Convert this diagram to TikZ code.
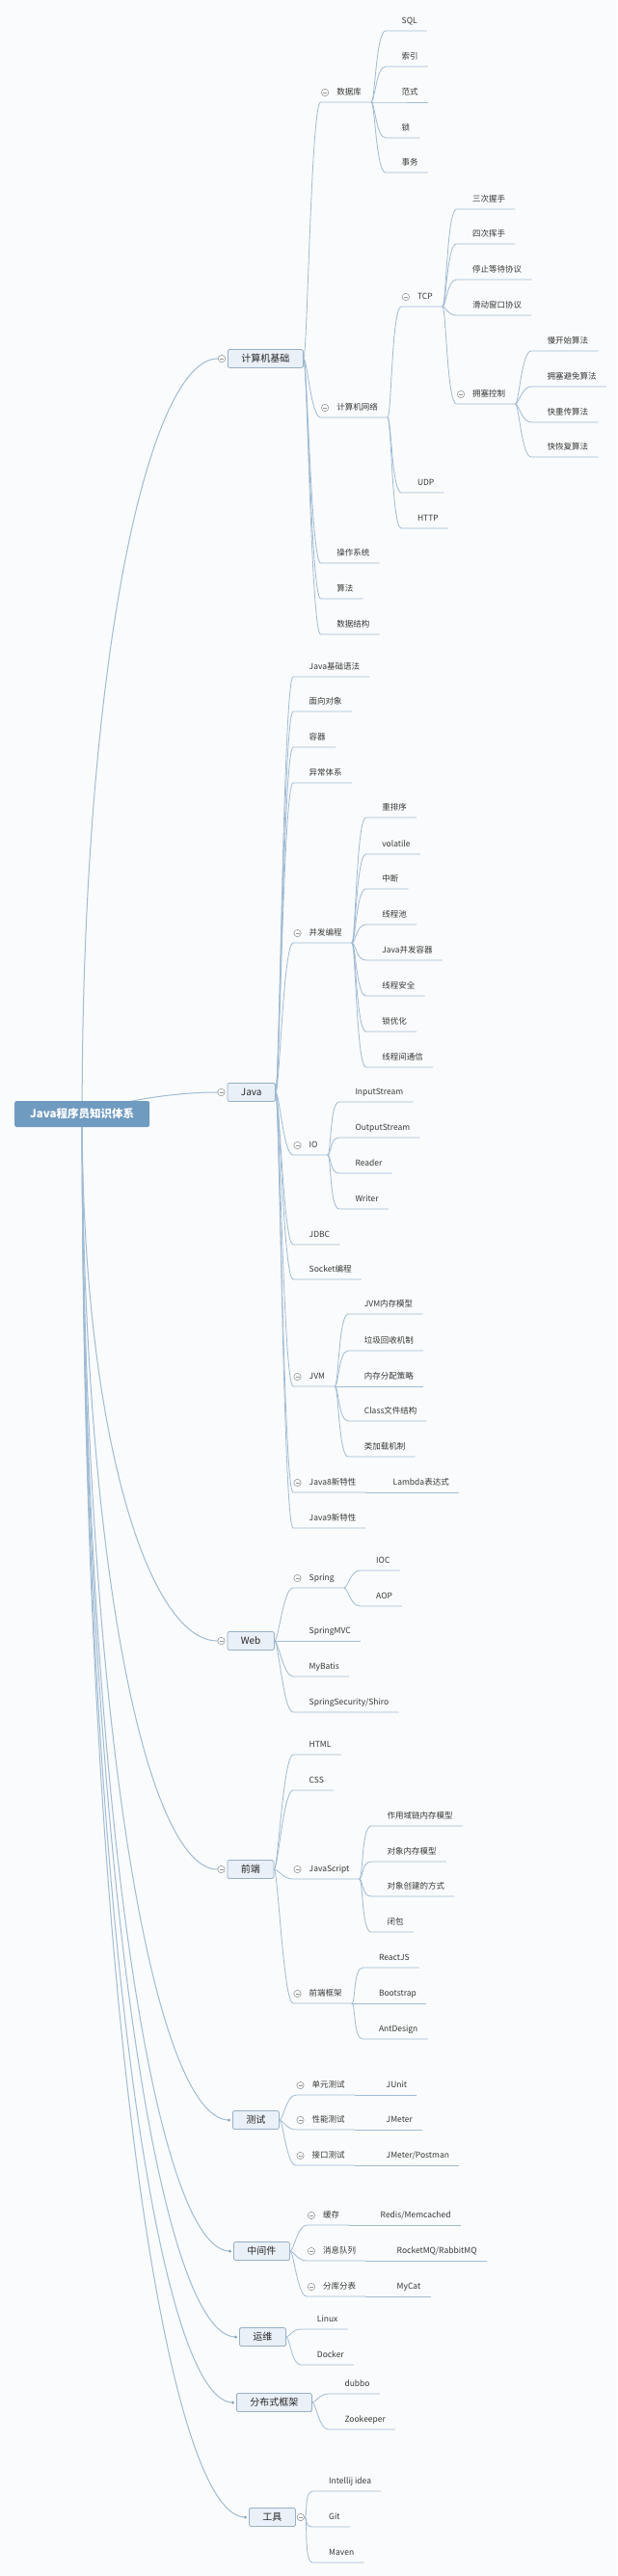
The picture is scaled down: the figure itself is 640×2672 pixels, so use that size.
\documentclass[tikz,border=0pt]{standalone}
\usepackage{fontspec}
\setmainfont{Noto Sans CJK SC}
\usetikzlibrary{positioning}

\definecolor{lineC}{RGB}{160,188,212}
\definecolor{rootC}{RGB}{112,155,192}
\definecolor{boxC}{RGB}{233,240,247}
\definecolor{boxD}{RGB}{152,177,200}
\definecolor{textC}{RGB}{55,55,55}
\definecolor{togC}{RGB}{150,150,150}
\definecolor{bgC}{RGB}{250,251,252}

\pgfdeclarelayer{bg}
\pgfsetlayers{bg,main}

\begin{document}
\begin{tikzpicture}[x=1pt,y=-1pt,
    link/.style={draw=lineC,line width=0.8pt},
    rootlink/.style={draw=lineC,line width=1pt},
    branch/.style={to path={.. controls +(4,0) and +(-10,0) .. (\tikztotarget)}}]
  \tikzstyle{nodeR}=[rectangle,rounded corners=2pt,fill=rootC,text=white,font=\fontsize{11.5}{13}\selectfont\bfseries,
    inner xsep=16pt,inner ysep=0pt,minimum height=27pt,text height=10.1pt,text depth=1.4pt,anchor=west]
  \tikzstyle{nodeT}=[rectangle,rounded corners=1.5pt,draw=boxD,fill=boxC,line width=0.8pt,text=black!85,
    font=\fontsize{10}{12}\selectfont,inner xsep=14pt,inner ysep=0pt,minimum height=19pt,
    text height=8.8pt,text depth=1.2pt,anchor=west]
  \tikzstyle{leaf}=[inner xsep=0pt,inner ysep=7.4pt,text height=6.5pt,text depth=0pt,anchor=south west,
    text=textC,font=\fontsize{8.5}{10}\selectfont,
    execute at begin node={\kern16.5pt},execute at end node={\kern10pt}]
  \tikzstyle{tog}=[circle,draw=togC,fill=white,line width=0.6pt,minimum size=7.4pt,inner sep=0pt,
    path picture={\draw[togC,line width=0.6pt] ([xshift=-2pt]path picture bounding box.center)
      -- ([xshift=2pt]path picture bounding box.center);}]
  \tikzstyle{dot}=[circle,fill=lineC!85!black,minimum size=3pt,inner sep=0pt]

  \path[use as bounding box] (0,0) rectangle (640,2672);

  % root and main topics
  \node[nodeR] (root) at (15,1155.5) {Java程序员知识体系};
  \node[nodeT] (cjb) at (236,372)   {计算机基础};
  \node[nodeT] (java) at (235.5,1133) {Java};
  \node[nodeT] (web) at (235.5,1702) {Web};
  \node[nodeT] (qd) at (235.5,1939)  {前端};
  \node[nodeT] (cs) at (241,2199)    {测试};
  \node[nodeT] (zjj) at (242,2335)   {中间件};
  \node[nodeT] (yw) at (248,2424)    {运维};
  \node[nodeT] (fbs) at (245,2492)   {分布式框架};
  \node[nodeT] (gj) at (258,2611)    {工具};
  \foreach \n in {cjb,java,web,qd}
    \node[tog] (\n-t) at ([xshift=-6pt]\n.west) {};
  \foreach \n in {cs,zjj,yw,fbs,gj}
    \node[dot] (\n-d) at ([xshift=-3.5pt]\n.west) {};
  \node[tog] (gj-t) at ([xshift=5pt]gj.east) {};

  \begin{pgfonlayer}{bg}
    \fill[bgC] (0,0) rectangle (640,2672);
    \draw[rootlink] (root.center) .. controls +(0,-470) and +(-72,0) .. (cjb-t.west);
    \draw[rootlink] (root.center) .. controls +(35,-12) and +(-50,0) .. (java-t.west);
    \draw[rootlink] (root.center) .. controls +(0,328) and +(-72,0) .. (web-t.west);
    \draw[rootlink] (root.center) .. controls +(0,470) and +(-72,0) .. (qd-t.west);
    \draw[rootlink] (root.center) .. controls +(0,626) and +(-78,0) .. (cs-d.center);
    \draw[rootlink] (root.center) .. controls +(0,708) and +(-78,0) .. (zjj-d.center);
    \draw[rootlink] (root.center) .. controls +(0,761) and +(-81,0) .. (yw-d.center);
    \draw[rootlink] (root.center) .. controls +(0,802) and +(-80,0) .. (fbs-d.center);
    \draw[rootlink] (root.center) .. controls +(0,873) and +(-86,0) .. (gj-d.center);
  \end{pgfonlayer}

  % 计算机基础
  \foreach \n/\y/\t in {db/106/数据库, net/433/计算机网络, os/584/操作系统, alg/621/算法, ds/658/数据结构} {
    \node[leaf] (\n) at (332.6,\y) {\t};
    \draw[link] (cjb.east) to[branch] (\n.south west) -- (\n.south east);
  }
  \foreach \n/\y/\t in {sql/32/SQL, idx/69/索引, nf/106/范式, lk/143/锁, tx/179/事务} {
    \node[leaf] (\n) at (400,\y) {\t};
    \draw[link] (db.south east) to[branch] (\n.south west) -- (\n.south east);
  }
  \foreach \n/\y/\t in {tcp/318/TCP, udp/511/UDP, http/548/HTTP} {
    \node[leaf] (\n) at (416.3,\y) {\t};
    \draw[link] (net.south east) to[branch] (\n.south west) -- (\n.south east);
  }
  \foreach \n/\y/\t in {hs/217/三次握手, wv/253/四次挥手, sw/290/停止等待协议, sl/327/滑动窗口协议, cc/419/拥塞控制} {
    \node[leaf] (\n) at (473.5,\y) {\t};
    \draw[link] (tcp.south east) to[branch] (\n.south west) -- (\n.south east);
  }
  \foreach \n/\y/\t in {ss/364/慢开始算法, ca/401/拥塞避免算法, fr/438/快重传算法, fc/474/快恢复算法} {
    \node[leaf] (\n) at (551,\y) {\t};
    \draw[link] (cc.south east) to[branch] (\n.south west) -- (\n.south east);
  }

  % Java
  \foreach \n/\y/\t in {jb/702/Java基础语法, oo/738/面向对象, ctn/775/容器, exc/812/异常体系, conc/978/并发编程,
      io/1198/IO, jdbc/1291/JDBC, sock/1327/Socket编程, jvm/1438/JVM, jeight/1548/Java8新特性, jnine/1585/Java9新特性} {
    \node[leaf] (\n) at (304,\y) {\t};
    \draw[link] (java.east) to[branch] (\n.south west) -- (\n.south east);
  }
  \foreach \n/\y/\t in {ro/848/重排序, vol/886/volatile, intr/922/中断, pool/959/线程池, jcc/996/Java并发容器,
      safe/1033/线程安全, lo/1070/锁优化, comm/1107/线程间通信} {
    \node[leaf] (\n) at (379.6,\y) {\t};
    \draw[link] (conc.south east) to[branch] (\n.south west) -- (\n.south east);
  }
  \foreach \n/\y/\t in {is/1143/InputStream, ost/1180/OutputStream, rd/1217/Reader, wr/1254/Writer} {
    \node[leaf] (\n) at (351.8,\y) {\t};
    \draw[link] (io.south east) to[branch] (\n.south west) -- (\n.south east);
  }
  \foreach \n/\y/\t in {jmm/1363/JVM内存模型, gc/1401/垃圾回收机制, ma/1438/内存分配策略, cf/1474/Class文件结构, cl/1511/类加载机制} {
    \node[leaf] (\n) at (361.2,\y) {\t};
    \draw[link] (jvm.south east) to[branch] (\n.south west) -- (\n.south east);
  }
  \node[leaf] (lambda) at (391,1548) {Lambda表达式};
  \draw[link] (jeight.south east) -- (lambda.south west) -- (lambda.south east);

  % Web
  \foreach \n/\y/\t in {spring/1647/Spring, mvc/1702/SpringMVC, mb/1739/MyBatis, sec/1776/{SpringSecurity/Shiro}} {
    \node[leaf] (\n) at (304,\y) {\t};
    \draw[link] (web.east) to[branch] (\n.south west) -- (\n.south east);
  }
  \foreach \n/\y/\t in {ioc/1629/IOC, aop/1666/AOP} {
    \node[leaf] (\n) at (373.5,\y) {\t};
    \draw[link] (spring.south east) to[branch] (\n.south west) -- (\n.south east);
  }

  % 前端
  \foreach \n/\y/\t in {html/1820/HTML, css/1857/CSS, js/1949/JavaScript, fw/2078/前端框架} {
    \node[leaf] (\n) at (304,\y) {\t};
    \draw[link] (qd.east) to[branch] (\n.south west) -- (\n.south east);
  }
  \foreach \n/\y/\t in {scope/1894/作用域链内存模型, om/1931/对象内存模型, oc/1967/对象创建的方式, clo/2004/闭包} {
    \node[leaf] (\n) at (385,\y) {\t};
    \draw[link] (js.south east) to[branch] (\n.south west) -- (\n.south east);
  }
  \foreach \n/\y/\t in {react/2041/ReactJS, bs/2078/Bootstrap, ant/2115/AntDesign} {
    \node[leaf] (\n) at (376.3,\y) {\t};
    \draw[link] (fw.south east) to[branch] (\n.south west) -- (\n.south east);
  }

  % 测试
  \foreach \n/\y/\t/\c/\ct/\cx in {ut/2173/单元测试/junit/JUnit/384, pt/2209/性能测试/jmeter/JMeter/384,
      it/2246/接口测试/postman/{JMeter/Postman}/384} {
    \node[leaf] (\n) at (307,\y) {\t};
    \draw[link] (cs.east) to[branch] (\n.south west) -- (\n.south east);
    \node[leaf] (\c) at (\cx,\y) {\ct};
    \draw[link] (\n.south east) -- (\c.south west) -- (\c.south east);
  }

  % 中间件
  \foreach \n/\y/\t/\c/\ct/\cx in {cache/2308/缓存/redis/{Redis/Memcached}/378, mq/2345/消息队列/rmq/{RocketMQ/RabbitMQ}/395,
      shard/2382/分库分表/mycat/MyCat/395} {
    \node[leaf] (\n) at (318.4,\y) {\t};
    \draw[link] (zjj.east) to[branch] (\n.south west) -- (\n.south east);
    \node[leaf] (\c) at (\cx,\y) {\ct};
    \draw[link] (\n.south east) -- (\c.south west) -- (\c.south east);
  }

  % 运维, 分布式框架, 工具
  \foreach \n/\y/\t in {linux/2416/Linux, docker/2453/Docker} {
    \node[leaf] (\n) at (312.2,\y) {\t};
    \draw[link] (yw.east) to[branch] (\n.south west) -- (\n.south east);
  }
  \foreach \n/\y/\t in {dubbo/2483/dubbo, zk/2520/Zookeeper} {
    \node[leaf] (\n) at (340.8,\y) {\t};
    \draw[link] (fbs.east) to[branch] (\n.south west) -- (\n.south east);
  }
  \foreach \n/\y/\t in {idea/2584/Intellij idea, git/2621/Git, maven/2658/Maven} {
    \node[leaf] (\n) at (324.5,\y) {\t};
    \draw[link] (gj-t.east) to[branch] (\n.south west) -- (\n.south east);
  }

  % collapse toggles
  \foreach \n in {db,net,tcp,cc,conc,io,jvm,jeight,spring,js,fw,ut,pt,it,cache,mq,shard}
    \node[tog] (\n-t) at ([xshift=4.5pt,yshift=10pt]\n.south west) {};
\end{tikzpicture}
\end{document}
